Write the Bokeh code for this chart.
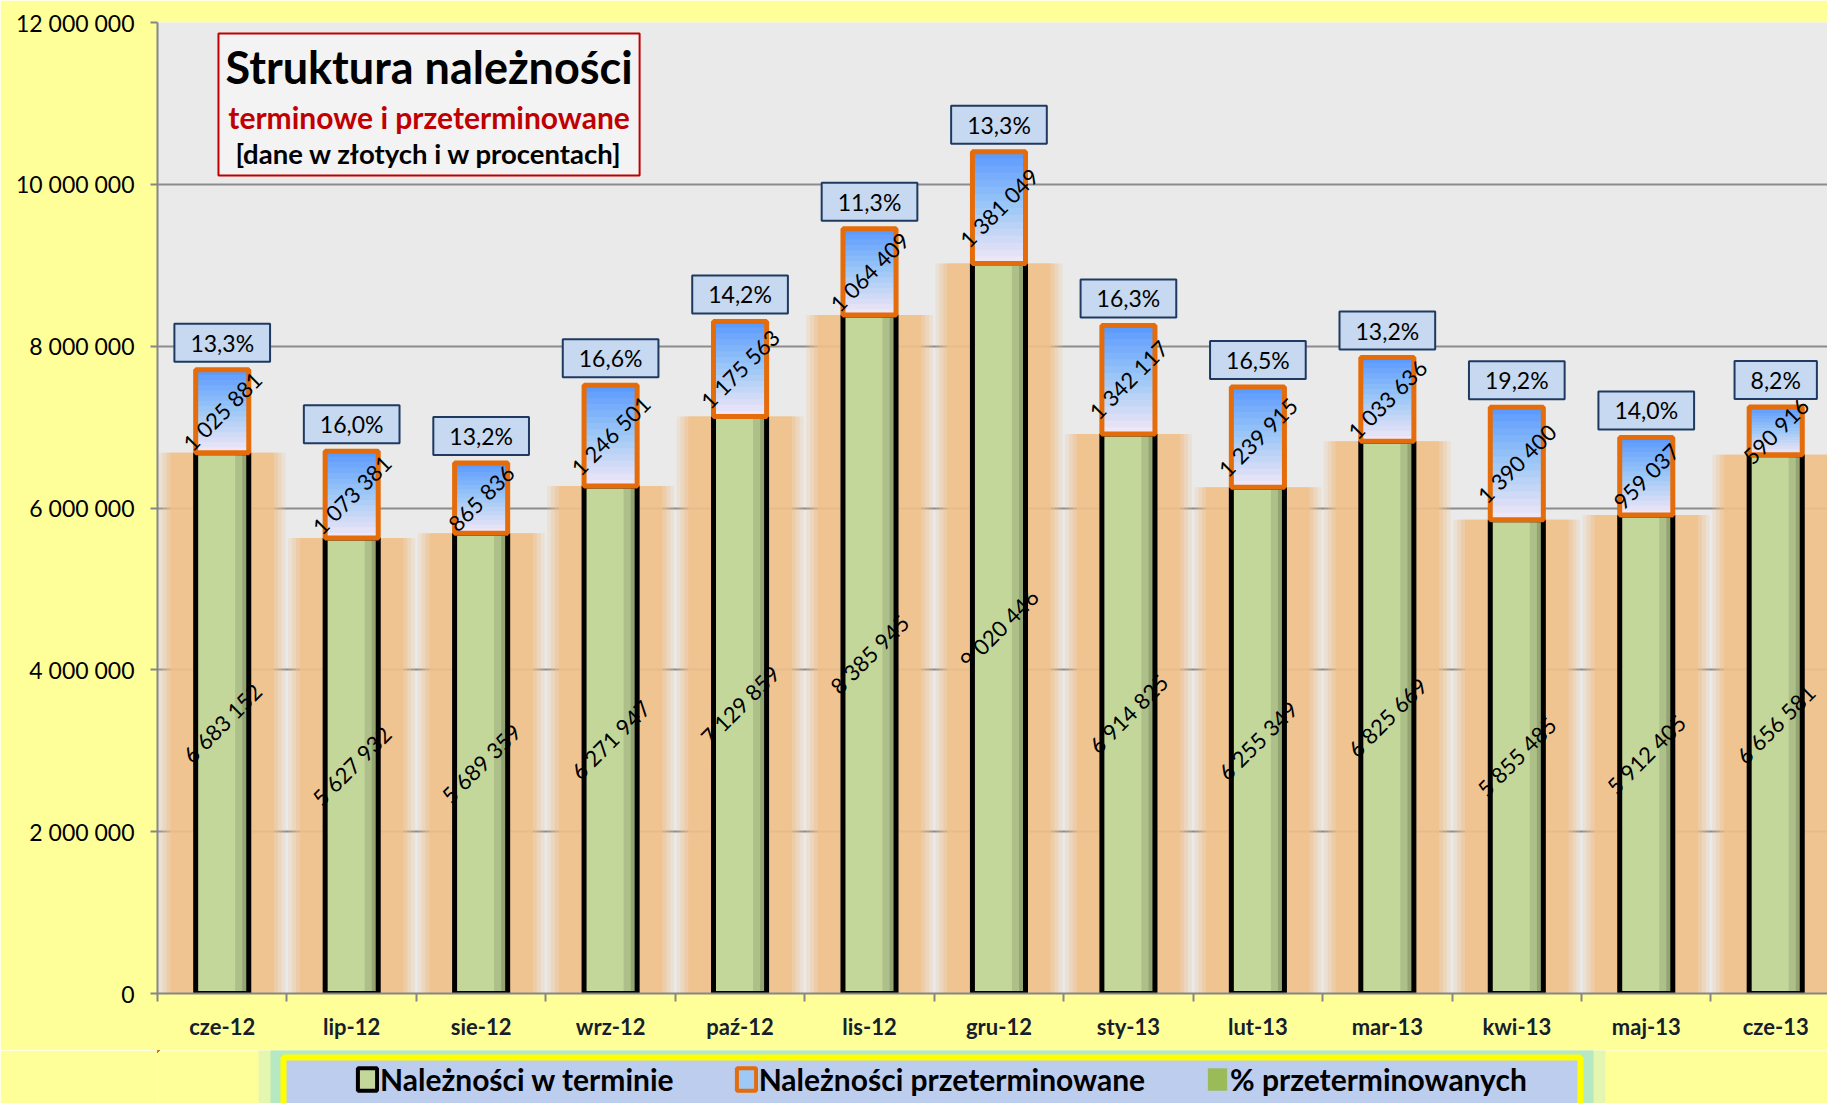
import math
from bokeh.plotting import figure
from bokeh.layouts import column
from bokeh.models import (ColumnDataSource, FixedTicker, Legend, LegendItem,
                          BoxAnnotation, Label, Range1d)
from bokeh.transform import dodge
from bokeh.core.properties import value
from bokeh.embed import file_html
from bokeh.resources import INLINE

# ---------------- data ----------------
months = ["cze-12", "lip-12", "sie-12", "wrz-12", "paź-12", "lis-12", "gru-12",
          "sty-13", "lut-13", "mar-13", "kwi-13", "maj-13", "cze-13"]
on_time = [6683152, 5627932, 5689359, 6271947, 7129859, 8385945, 9020446,
           6914825, 6255349, 6825669, 5855485, 5912405, 6656581]
overdue = [1025881, 1073381, 865836, 1246501, 1175563, 1064409, 1381049,
           1342117, 1239915, 1033636, 1390400, 959037, 590916]
pct_labels = ["13,3%", "16,0%", "13,2%", "16,6%", "14,2%", "11,3%", "13,3%",
              "16,3%", "16,5%", "13,2%", "19,2%", "14,0%", "8,2%"]
y_ticks = [0, 2000000, 4000000, 6000000, 8000000, 10000000, 12000000]
y_tick_labels = ["0", "2 000 000", "4 000 000", "6 000 000", "8 000 000",
                 "10 000 000", "12 000 000"]
legend_labels = ["Należności w terminie", "Należności przeterminowane",
                 "% przeterminowanych"]

FONT = "Lato"


def fmt(v):
    return f"{v:,}".replace(",", " ")


n = len(months)
xs = [i + 0.5 for i in range(n)]
totals = [a + b for a, b in zip(on_time, overdue)]

src = ColumnDataSource(dict(
    x=xs, on_time=on_time, overdue=overdue, total=totals, pct=pct_labels,
    g_mid=[v / 2 for v in on_time],
    b_mid=[a + b / 2 for a, b in zip(on_time, overdue)],
    g_lab=[fmt(v) for v in on_time],
    b_lab=[fmt(v) for v in overdue],
))

# gradient layers for the overdue (blue) segment, painted bottom-up
NS = 16
c_bot = (0xF4, 0xE8, 0xF6)
c_mid = (0x9E, 0xC8, 0xF6)
c_top = (0x58, 0x98, 0xFF)


def lerp(a, b, t):
    return tuple(int(round(a[i] + (b[i] - a[i]) * t)) for i in range(3))


sx, sb, st, sc = [], [], [], []
for k in range(NS):
    t = (k + 0.5) / NS
    col = lerp(c_bot, c_mid, t / 0.5) if t < 0.5 else lerp(c_mid, c_top, (t - 0.5) / 0.5)
    for i in range(n):
        sx.append(xs[i])
        sb.append(on_time[i] + overdue[i] * k / NS)
        st.append(totals[i])
        sc.append("#%02x%02x%02x" % col)
slice_src = ColumnDataSource(dict(x=sx, bottom=sb, top=st, color=sc))

# ---------------- main figure ----------------
p = figure(width=1827, height=1050, x_range=Range1d(0, 12.9),
           y_range=Range1d(0, 12000000),
           output_backend="svg", toolbar_location=None,
           min_border_left=157, min_border_right=0, min_border_top=22,
           min_border_bottom=57,
           background_fill_color="#EAEAEA", border_fill_color="#FFFF99",
           outline_line_color=None)

# axes
p.xaxis.ticker = FixedTicker(ticks=xs, minor_ticks=list(range(n + 1)))
p.xaxis.major_label_overrides = {x: m for x, m in zip(xs, months)}
p.xaxis.major_tick_out = 0
p.xaxis.major_tick_in = 0
p.xaxis.minor_tick_out = 8
p.xaxis.minor_tick_in = 0
p.xaxis.minor_tick_line_color = "#868686"
p.xaxis.minor_tick_line_width = 2
p.xaxis.axis_line_color = "#868686"
p.xaxis.axis_line_width = 2
p.xaxis.major_label_text_font = FONT
p.xaxis.major_label_text_font_size = "22px"
p.xaxis.major_label_text_font_style = "bold"
p.xaxis.major_label_text_color = "#15202a"
p.xaxis.major_label_standoff = 11

p.yaxis.ticker = FixedTicker(ticks=y_ticks, minor_ticks=[])
p.yaxis.major_label_overrides = {t: l for t, l in zip(y_ticks, y_tick_labels)}
p.yaxis.major_tick_out = 7
p.yaxis.major_tick_in = 0
p.yaxis.major_tick_line_color = "#868686"
p.yaxis.major_tick_line_width = 2
p.yaxis.axis_line_color = "#868686"
p.yaxis.axis_line_width = 2
p.yaxis.major_label_text_font = FONT
p.yaxis.major_label_text_font_size = "23px"
p.yaxis.major_label_text_color = "black"
p.yaxis.major_label_standoff = 16

p.xgrid.visible = False
p.ygrid.grid_line_color = "#8C8C8C"
p.ygrid.grid_line_width = 2

# orange glow behind bars (solid near the bar, fading outwards)
for w, a in ((0.98, 0.22), (0.92, 0.3), (0.86, 0.4), (0.8, 0.75)):
    p.vbar(x="x", top="on_time", bottom=0, width=w, source=src,
           fill_color="#F0C08A", fill_alpha=a, line_color=None)

# green segment
p.vbar(x="x", top="on_time", bottom=0, width=0.41, source=src,
       fill_color="#C4D79B", line_color=None)
p.vbar(x=dodge("x", 0.15, range=p.x_range), top="on_time", bottom=0, width=0.1,
       source=src, fill_color="#5A6640", fill_alpha=0.2, line_color=None)
p.vbar(x=dodge("x", 0.18, range=p.x_range), top="on_time", bottom=0, width=0.05,
       source=src, fill_color="#5A6640", fill_alpha=0.3, line_color=None)
p.vbar(x="x", top="on_time", bottom=0, width=0.41, source=src,
       fill_alpha=0, line_color="black", line_width=5)

# blue gradient segment with orange outline
p.vbar(x="x", top="top", bottom="bottom", width=0.41, source=slice_src,
       fill_color="color", line_color=None)
p.vbar(x="x", top="total", bottom="on_time", width=0.41, source=src,
       fill_alpha=0, line_color="#E46C0A", line_width=5)

# value labels
p.text(x="x", y="g_mid", text="g_lab", angle=math.pi / 4, source=src,
       text_align="center", text_baseline="middle", text_font=value(FONT),
       text_font_size="22px", text_color="black")
p.text(x="x", y="b_mid", text="b_lab", angle=math.pi / 4, source=src,
       text_align="center", text_baseline="middle", text_font=value(FONT),
       text_font_size="22px", text_color="black")
p.text(x="x", y="total", text="pct", source=src, y_offset=-27,
       text_align="center", text_baseline="middle", text_font=value(FONT),
       text_font_size="23px", text_color="black",
       background_fill_color="#C6D9F1", border_line_color="#1F3A60",
       border_line_width=2, padding=dict(left=16, right=16, top=5, bottom=5))

# title box
p.add_layout(BoxAnnotation(left=0.471, right=3.724, top=11864000, bottom=10109000,
                           fill_color="#F3F3F3", fill_alpha=1,
                           line_color="#C00000", line_alpha=1, line_width=2))
p.add_layout(Label(x=2.098, y=11456000, text="Struktura należności",
                   text_align="center", text_baseline="middle", text_font=FONT,
                   text_font_style="bold", text_font_size="45px", text_color="black"))
p.add_layout(Label(x=2.098, y=10838000, text="terminowe i przeterminowane",
                   text_align="center", text_baseline="middle", text_font=FONT,
                   text_font_style="bold", text_font_size="30px", text_color="#C00000"))
p.add_layout(Label(x=2.098, y=10381000, text="[dane w złotych i w procentach]",
                   text_align="center", text_baseline="middle", text_font=FONT,
                   text_font_style="bold", text_font_size="27.5px", text_color="black"))

# ---------------- legend strip ----------------
# its frame is aligned with the main frame (starts at x=157), so the x range
# maps page pixels one to one
p2 = figure(width=1827, height=53, x_range=Range1d(157, 1827), y_range=Range1d(0, 53),
            output_backend="svg", toolbar_location=None, min_border=0,
            x_axis_location=None, y_axis_location=None,
            background_fill_color="#FFFF99", border_fill_color="#FFFF99",
            outline_line_color=None)
p2.grid.visible = False

# glow and box around the legend
p2.add_layout(BoxAnnotation(left=258, right=1605, top=60, bottom=-20,
                            fill_color="#D9F2B8", fill_alpha=0.7, line_color=None))
p2.add_layout(BoxAnnotation(left=270, right=1593, top=60, bottom=-20,
                            fill_color="#AEE6C4", fill_alpha=0.85, line_color=None))
p2.add_layout(BoxAnnotation(left=283, right=1580, top=46, bottom=-20,
                            fill_color="#BCCDEE", fill_alpha=1,
                            line_color="#FFFF00", line_alpha=1, line_width=6))

# legend glyph renderers: zero-height bars whose data lies far outside the strip
lg1 = p2.vbar(x="x", top="on_time", bottom="on_time", width=0.41, source=src,
              fill_color="#C4D79B", line_color="black", line_width=4)
lg2 = p2.vbar(x="x", top="total", bottom="total", width=0.41, source=src,
              fill_color="#9EC8F6", line_color="#E46C0A", line_width=4)
lg3 = p2.vbar(x="x", top="total", bottom="total", width=0.41, source=src,
              fill_color="#9BBB59", line_color=None)

legend = Legend(items=[
    LegendItem(label=legend_labels[0], renderers=[lg1]),
    LegendItem(label=legend_labels[1], renderers=[lg2]),
    LegendItem(label=legend_labels[2], renderers=[lg3]),
], location=(198, 6), orientation="horizontal",
    background_fill_alpha=0, border_line_color=None,
    label_text_font=FONT, label_text_font_style="bold",
    label_text_font_size="30px", label_text_color="black",
    glyph_width=24, glyph_height=28, spacing=60, padding=0, margin=0,
    label_standoff=1)
p2.add_layout(legend, "center")

layout = column(p, p2, spacing=0)
open("out.html", "w").write(file_html(layout, INLINE))
